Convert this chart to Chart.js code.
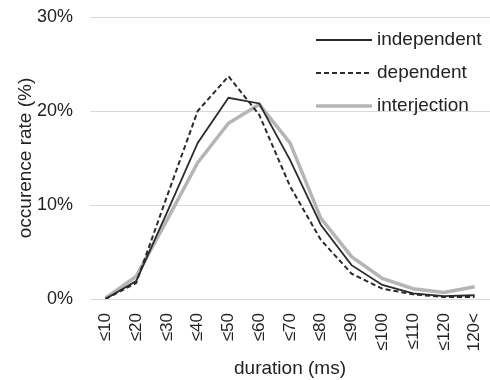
<!DOCTYPE html>
<html>
<head>
<meta charset="utf-8">
<script src="https://cdn.jsdelivr.net/npm/chart.js@4"></script>
<style>
  html, body { margin: 0; padding: 0; background: #fff; }
  #wrap { width: 490px; height: 380px; }
</style>
</head>
<body>
<div id="wrap"><canvas id="myChart" width="490" height="380"></canvas></div>
<script>
var categories = ['≤10', '≤20', '≤30', '≤40', '≤50', '≤60', '≤70', '≤80', '≤90', '≤100', '≤110', '≤120', '120<'];
var independent = [0, 1.9, 9.2, 16.6, 21.4, 20.8, 14.8, 7.9, 3.6, 1.5, 0.6, 0.3, 0.4];
var dependent = [0, 1.7, 10.9, 20.0, 23.7, 19.6, 12.0, 6.3, 2.7, 1.1, 0.5, 0.2, 0.2];
var interjection = [0.1, 2.4, 8.4, 14.5, 18.7, 20.7, 16.6, 8.6, 4.5, 2.2, 1.1, 0.7, 1.3];
var yTicks = [0, 10, 20, 30];

var FONT = "'Liberation Sans', Arial, sans-serif";

// legend drawn inside the plot, top right
var insideLegend = {
    id: 'insideLegend',
    afterDraw: function (chart) {
        var ctx = chart.ctx;
        var x0 = 316, x1 = 372, y = 40, step = 33;
        ctx.save();
        ctx.font = '19px ' + FONT;
        ctx.textBaseline = 'middle';
        ctx.fillStyle = '#222';
        chart.data.datasets.forEach(function (ds, i) {
            var yy = y + i * step;
            ctx.beginPath();
            ctx.strokeStyle = ds.borderColor;
            ctx.lineWidth = ds.borderWidth;
            ctx.setLineDash(ds.borderDash || []);
            ctx.moveTo(x0, yy);
            ctx.lineTo(x1, yy);
            ctx.stroke();
            ctx.setLineDash([]);
            ctx.fillText(ds.label, 377, yy);
        });
        ctx.restore();
    }
};

var ctx = document.getElementById('myChart').getContext('2d');
var myChart = new Chart(ctx, {
    type: 'line',
    data: {
        labels: categories,
        datasets: [
            {
                label: 'independent',
                data: independent,
                borderColor: '#2b2b2b',
                borderWidth: 1.8,
                pointRadius: 0,
                tension: 0
            },
            {
                label: 'dependent',
                data: dependent,
                borderColor: '#2b2b2b',
                borderWidth: 2,
                borderDash: [5, 3],
                pointRadius: 0,
                tension: 0
            },
            {
                label: 'interjection',
                data: interjection,
                borderColor: '#b5b5b5',
                borderWidth: 3.5,
                pointRadius: 0,
                tension: 0
            }
        ]
    },
    options: {
        responsive: false,
        animation: false,
        layout: { padding: { top: 17, right: 0, left: 0, bottom: 0 } },
        plugins: {
            legend: { display: false },
            tooltip: { enabled: false }
        },
        scales: {
            x: {
                offset: true,
                grid: { display: false },
                border: { display: false },
                ticks: {
                    color: '#222',
                    font: { family: FONT, size: 17 },
                    maxRotation: 90,
                    minRotation: 90,
                    autoSkip: false,
                    padding: 6
                },
                title: {
                    display: true,
                    text: 'duration (ms)',
                    color: '#222',
                    font: { family: FONT, size: 19 },
                    padding: { top: 2, bottom: 0 }
                },
                afterFit: function (scale) {
                    scale.height = 81;
                    scale.paddingLeft = 0;
                    scale.paddingRight = 0;
                }
            },
            y: {
                min: 0,
                max: 30,
                afterBuildTicks: function (scale) {
                    scale.ticks = yTicks.map(function (v) { return { value: v }; });
                },
                grid: { color: '#d9d9d9', lineWidth: 1, drawTicks: false },
                border: { display: false },
                ticks: {
                    color: '#222',
                    font: { family: FONT, size: 18 },
                    padding: 17,
                    callback: function (v) { return v + '%'; }
                },
                title: {
                    display: true,
                    text: 'occurence rate (%)',
                    color: '#222',
                    font: { family: FONT, size: 19 },
                    padding: { top: 14, bottom: 0 }
                },
                afterFit: function (scale) {
                    scale.width = 90;
                    scale.paddingTop = 0;
                    scale.paddingBottom = 0;
                }
            }
        }
    },
    plugins: [insideLegend]
});
</script>
</body>
</html>
